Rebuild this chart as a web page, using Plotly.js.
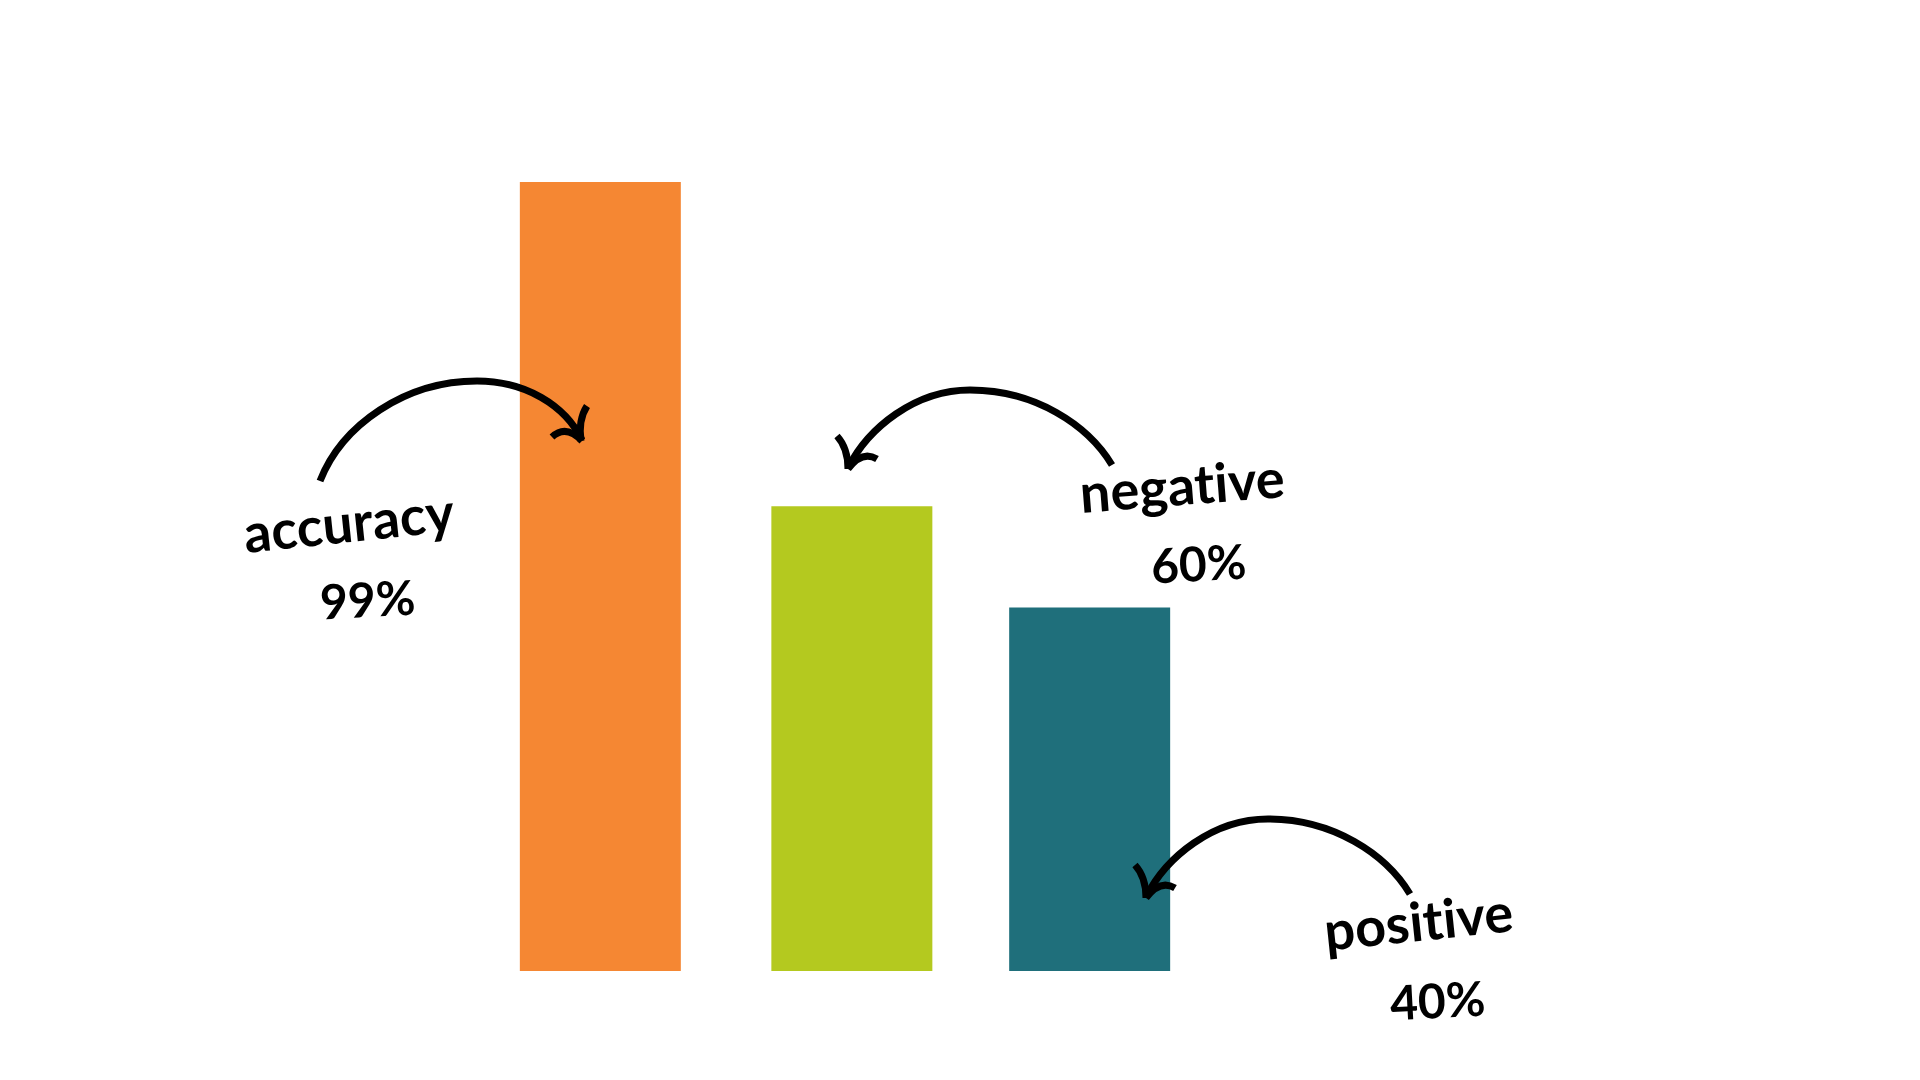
<!DOCTYPE html>
<html>
<head>
<meta charset="utf-8">
<script src="https://cdn.plot.ly/plotly-3.0.1.min.js"></script>
<style>
  html, body { margin: 0; padding: 0; background: #ffffff; }
  #chart { width: 1920px; height: 1080px; }
  #chart text { font-variant-ligatures: none; font-feature-settings: "liga" 0, "clig" 0; }
</style>
</head>
<body>
<div id="chart"></div>
<script>
// ---- data ----
const categories = ['accuracy', 'negative', 'positive'];
const barValues = [99, 58.3, 45.6];          // bar heights
const labelWords = ['accuracy', 'negative', 'positive'];
const labelPercents = ['99%', '60%', '40%'];
const barColors = ['#F58733', '#B4C91F', '#1F6F7B'];

// ---- layout geometry (pixels) ----
const W = 1920, H = 1080;
const M = { l: 478, r: 708, t: 182, b: 109 };
const PW = W - M.l - M.r, PH = H - M.t - M.b;
const px = x => (x - M.l) / PW;
const py = y => (H - M.b - y) / PH;
function path(cmds) {
  return cmds.map(c => c[0] + ' ' + c.slice(1).map((v, i) => i % 2 === 0 ? px(v) : py(v)).join(' ')).join(' ');
}

const arrowLine = { color: '#000000', width: 7 };
function arrowShapes(curve, barbs) {
  return [curve].concat(barbs).map(p => ({
    type: 'path', xref: 'paper', yref: 'paper', path: path(p), line: arrowLine, layer: 'above'
  }));
}

// accuracy arrow (curving right, pointing down into bar)
const accArrow = arrowShapes(
  [['M', 320, 481], ['C', 342, 425, 405, 381, 477, 381], ['C', 525, 381, 565, 405, 582, 440]],
  [[['M', 552, 437], ['Q', 566, 424, 582, 441]], [['M', 587, 406], ['Q', 578, 420, 581, 441]]]
);
// negative / positive arrows (curving left)
function leftArrow(dx, dy) {
  return arrowShapes(
    [['M', 1112 + dx, 465 + dy], ['C', 1088 + dx, 425 + dy, 1035 + dx, 390 + dy, 970 + dx, 390 + dy],
     ['C', 915 + dx, 390 + dy, 868 + dx, 428 + dy, 848 + dx, 468 + dy]],
    [[['M', 837 + dx, 436 + dy], ['Q', 848 + dx, 448 + dy, 848 + dx, 469 + dy]],
     [['M', 877 + dx, 459 + dy], ['Q', 862 + dx, 450 + dy, 848 + dx, 469 + dy]]]
  );
}
const negArrow = leftArrow(0, 0);
const posArrow = leftArrow(298, 429);

const wordFont = { family: 'Lato, sans-serif', size: 54, color: '#000000', weight: 700 };
const pctFont = { family: 'Lato, sans-serif', size: 48, color: '#000000', weight: 700 };
const wordPos = [[349, 521, -6], [1182, 485, -4.5], [1418, 920, -6]];
const pctPos = [[367, 598, -3], [1198, 562, -3], [1437, 999, -3]];

const annotations = [];
labelWords.forEach((t, i) => annotations.push({
  xref: 'paper', yref: 'paper', x: px(wordPos[i][0]), y: py(wordPos[i][1]),
  xanchor: 'center', yanchor: 'middle', text: t, showarrow: false,
  textangle: wordPos[i][2], font: wordFont
}));
labelPercents.forEach((t, i) => annotations.push({
  xref: 'paper', yref: 'paper', x: px(pctPos[i][0]), y: py(pctPos[i][1]),
  xanchor: 'center', yanchor: 'middle', text: t, showarrow: false,
  textangle: pctPos[i][2], font: pctFont
}));

const barWidth = 0.658;
const trace = {
  type: 'bar', x: categories, y: barValues,
  width: barWidth,
  offset: [-barWidth / 2, -barWidth / 2 + 0.028, -barWidth / 2],
  marker: { color: barColors, line: { width: 0 } },
  hoverinfo: 'skip'
};

const layout = {
  width: W, height: H,
  margin: M,
  paper_bgcolor: '#ffffff', plot_bgcolor: '#ffffff',
  showlegend: false,
  xaxis: { visible: false, type: 'category', range: [-0.5, 2.5], fixedrange: true },
  yaxis: { visible: false, range: [0, 99], fixedrange: true },
  shapes: accArrow.concat(negArrow, posArrow),
  annotations: annotations
};

Plotly.newPlot('chart', [trace], layout, { displayModeBar: false, staticPlot: true });
</script>
</body>
</html>
